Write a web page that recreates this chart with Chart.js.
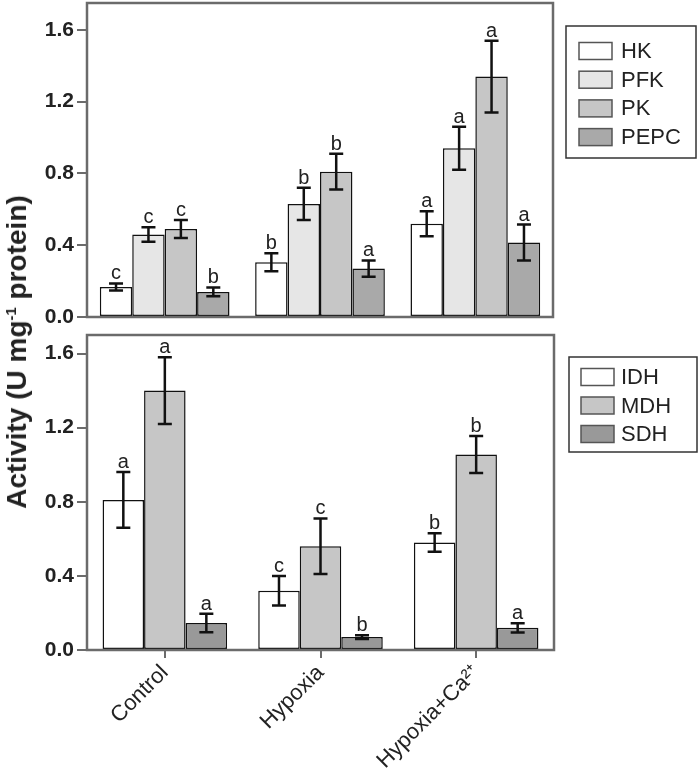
<!DOCTYPE html>
<html lang="en">
<head>
  <meta charset="UTF-8">
  <title>Enzyme activity</title>
  <script src="https://cdn.jsdelivr.net/npm/chart.js"></script>
  <style>
    body { margin: 0; background: #fff; font-family: 'Liberation Sans', Arial, sans-serif; }
    #wrap { position: relative; width: 700px; height: 780px; }
    canvas { position: absolute; left: 0; }
    #top { top: 0; }
    #bottom { top: 325px; }
    #ytitle {
      position: absolute; left: 17px; top: 352px;
      transform: translate(-50%, -50%) rotate(-90deg);
      white-space: nowrap; font-weight: bold; font-size: 28px; color: #222;
    }
    #ytitle sup { font-size: 15px; }
  </style>
</head>
<body>
  <div id="wrap">
    <canvas id="top" width="700" height="325"></canvas>
    <canvas id="bottom" width="700" height="455"></canvas>
    <div id="ytitle">Activity (U mg<sup>-1</sup> protein)</div>
  </div>

  <script>
    const categories = ['Control', 'Hypoxia', 'Hypoxia+Ca\u00B2\u207A'];
    const yTicks = [0, 0.4, 0.8, 1.2, 1.6];

    // top panel: glycolytic enzymes
    const hk = [0.167, 0.305, 0.52];
    const hkErr = [0.02, 0.05, 0.07];
    const hkSig = ['c', 'b', 'a'];
    const pfk = [0.46, 0.63, 0.94];
    const pfkErr = [0.04, 0.09, 0.12];
    const pfkSig = ['c', 'b', 'a'];
    const pk = [0.49, 0.81, 1.34];
    const pkErr = [0.05, 0.10, 0.20];
    const pkSig = ['c', 'b', 'a'];
    const pepc = [0.14, 0.27, 0.415];
    const pepcErr = [0.025, 0.045, 0.10];
    const pepcSig = ['b', 'a', 'a'];

    // bottom panel: TCA enzymes
    const idh = [0.81, 0.32, 0.58];
    const idhErr = [0.15, 0.08, 0.05];
    const idhSig = ['a', 'c', 'b'];
    const mdh = [1.40, 0.56, 1.055];
    const mdhErr = [0.18, 0.15, 0.10];
    const mdhSig = ['a', 'c', 'b'];
    const sdh = [0.146, 0.07, 0.12];
    const sdhErr = [0.05, 0.01, 0.025];
    const sdhSig = ['a', 'b', 'a'];

    Chart.defaults.font.family = "'Liberation Sans', Arial, sans-serif";
    Chart.defaults.color = '#222';

    // error bars + significance letters, frame, boxed legend
    const decor = {
      id: 'decor',
      afterDatasetsDraw(chart) {
        const ctx = chart.ctx;
        const y = chart.scales.y;
        ctx.save();
        chart.data.datasets.forEach((ds, i) => {
          chart.getDatasetMeta(i).data.forEach((bar, j) => {
            const v = ds.data[j], e = ds.errors[j];
            const yHi = y.getPixelForValue(v + e);
            const yLo = y.getPixelForValue(v - e);
            ctx.strokeStyle = '#111';
            ctx.lineWidth = 2.5;
            ctx.beginPath();
            ctx.moveTo(bar.x, yHi); ctx.lineTo(bar.x, yLo);
            ctx.moveTo(bar.x - 7, yHi); ctx.lineTo(bar.x + 7, yHi);
            ctx.moveTo(bar.x - 7, yLo); ctx.lineTo(bar.x + 7, yLo);
            ctx.stroke();
            ctx.fillStyle = '#222';
            ctx.font = "20px 'Liberation Sans', Arial, sans-serif";
            ctx.textAlign = 'center';
            ctx.textBaseline = 'alphabetic';
            ctx.fillText(ds.letters[j], bar.x, yHi - 4);
          });
        });
        ctx.restore();
      },
      afterDraw(chart, args, opts) {
        const ctx = chart.ctx;
        const a = chart.chartArea;
        ctx.save();
        ctx.strokeStyle = '#6b6b6b';
        ctx.lineWidth = 2.5;
        ctx.strokeRect(a.left, a.top, a.right - a.left, a.bottom - a.top);

        const L = opts.legend;
        ctx.strokeStyle = '#333';
        ctx.lineWidth = 1.5;
        ctx.strokeRect(L.x, L.y, L.w, L.h);
        ctx.font = "22px 'Liberation Sans', Arial, sans-serif";
        ctx.textAlign = 'left';
        ctx.textBaseline = 'middle';
        chart.data.datasets.forEach((ds, i) => {
          const cy = L.row0 + i * L.gap;
          ctx.fillStyle = ds.backgroundColor;
          ctx.fillRect(L.sx, cy - 8.5, 33, 17);
          ctx.strokeStyle = '#555';
          ctx.lineWidth = 1.5;
          ctx.strokeRect(L.sx, cy - 8.5, 33, 17);
          ctx.fillStyle = '#222';
          ctx.fillText(ds.label, L.tx, cy + 1);
        });
        ctx.restore();
      }
    };

    function makeSet(label, data, errors, letters, color) {
      return {
        label, data, errors, letters,
        backgroundColor: color,
        borderColor: '#111',
        borderWidth: 1.5,
        borderSkipped: false,
        barPercentage: 1.0
      };
    }

    function yScale(max) {
      return {
        min: 0, max: max,
        afterBuildTicks: s => { s.ticks = yTicks.map(v => ({ value: v })); },
        afterFit: s => { s.width = 87; s.paddingTop = 0; s.paddingBottom = 0; },
        border: { display: false },
        grid: { drawOnChartArea: false, drawTicks: true, tickLength: 10, color: '#6b6b6b', lineWidth: 2 },
        ticks: {
          font: { size: 21, weight: 'bold' },
          padding: 3,
          callback: v => v.toFixed(1)
        }
      };
    }

    new Chart(document.getElementById('top'), {
      type: 'bar',
      data: {
        labels: categories,
        datasets: [
          makeSet('HK', hk, hkErr, hkSig, '#ffffff'),
          makeSet('PFK', pfk, pfkErr, pfkSig, '#e6e6e6'),
          makeSet('PK', pk, pkErr, pkSig, '#c6c6c6'),
          makeSet('PEPC', pepc, pepcErr, pepcSig, '#a9a9a9')
        ].map(d => Object.assign(d, { categoryPercentage: 0.835 }))
      },
      options: {
        responsive: false,
        animation: false,
        devicePixelRatio: 1,
        layout: { padding: { left: 0, right: 147, top: 3, bottom: 8 } },
        plugins: {
          legend: { display: false },
          tooltip: { enabled: false },
          decor: { legend: { x: 566, y: 26, w: 130, h: 132, sx: 579, tx: 621, row0: 51, gap: 28.7 } }
        },
        scales: {
          x: { display: false },
          y: yScale(1.75)
        }
      },
      plugins: [decor]
    });

    new Chart(document.getElementById('bottom'), {
      type: 'bar',
      data: {
        labels: categories,
        datasets: [
          makeSet('IDH', idh, idhErr, idhSig, '#ffffff'),
          makeSet('MDH', mdh, mdhErr, mdhSig, '#c6c6c6'),
          makeSet('SDH', sdh, sdhErr, sdhSig, '#999999')
        ].map(d => Object.assign(d, { categoryPercentage: 0.80 }))
      },
      options: {
        responsive: false,
        animation: false,
        devicePixelRatio: 1,
        layout: { padding: { left: 0, right: 146, top: 10, bottom: 0 } },
        plugins: {
          legend: { display: false },
          tooltip: { enabled: false },
          decor: { legend: { x: 569, y: 32, w: 128, h: 95, sx: 581, tx: 621, row0: 52, gap: 28.5 } }
        },
        scales: {
          x: {
            afterFit: s => { s.height = 130; s.paddingLeft = 0; s.paddingRight = 0; },
            border: { display: false },
            grid: { drawOnChartArea: false, offset: false, drawTicks: true, tickLength: 8, color: '#6b6b6b', lineWidth: 2 },
            ticks: { font: { size: 22 }, minRotation: 45, maxRotation: 45, padding: 2 }
          },
          y: yScale(1.70)
        }
      },
      plugins: [decor]
    });
  </script>
</body>
</html>
